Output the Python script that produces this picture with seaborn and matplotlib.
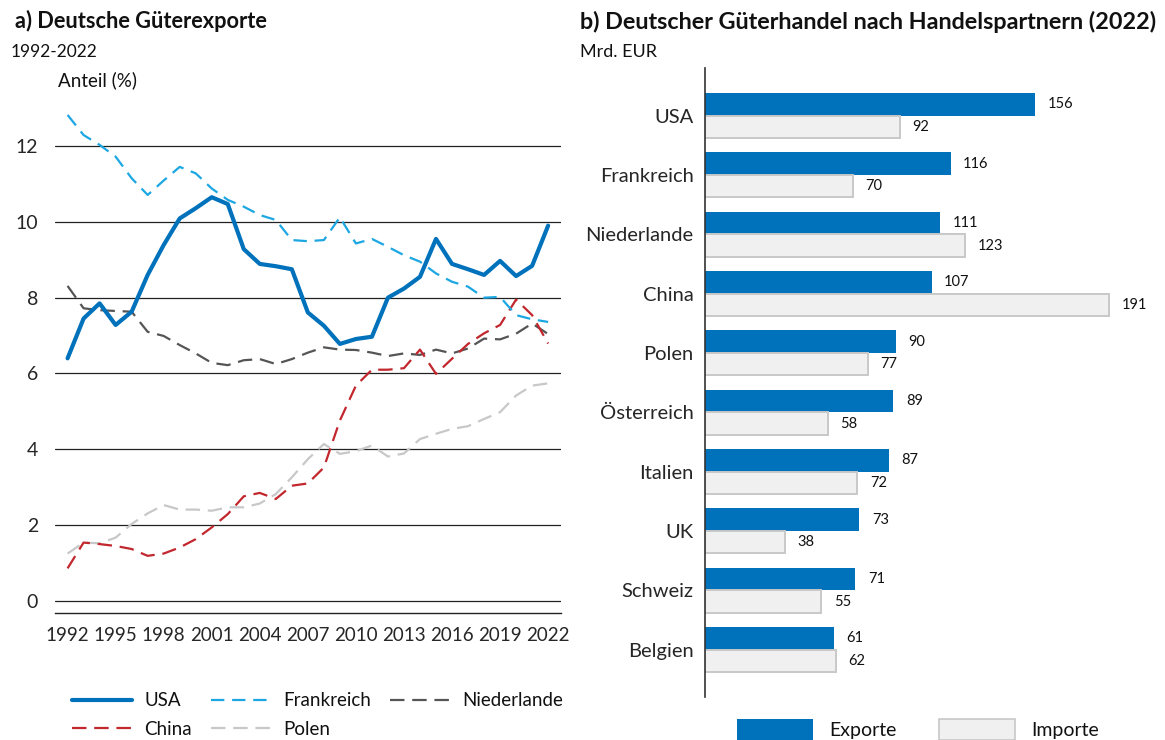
import numpy as np
import pandas as pd
import matplotlib
matplotlib.use("Agg")
import matplotlib.pyplot as plt
from matplotlib.patches import Patch
import seaborn as sns

# ------------------------------
# Daten
# ------------------------------
jahre = list(range(1992, 2023))

usa = [6.40, 7.45, 7.85, 7.28, 7.63, 8.60, 9.39, 10.09, 10.36, 10.65, 10.47, 9.28,
       8.89, 8.83, 8.75, 7.61, 7.26, 6.78, 6.91, 6.97, 8.00, 8.24, 8.55, 9.55,
       8.89, 8.75, 8.60, 8.97, 8.57, 8.84, 9.90]
frankreich = [12.82, 12.29, 12.03, 11.72, 11.15, 10.71, 11.09, 11.45, 11.28, 10.88, 10.58,
              10.40, 10.18, 10.05, 9.52, 9.49, 9.52, 10.12, 9.43, 9.55, 9.34, 9.12,
              8.95, 8.64, 8.42, 8.29, 8.00, 8.02, 7.54, 7.43, 7.36]
niederlande = [8.31, 7.72, 7.67, 7.65, 7.63, 7.10, 6.99, 6.75, 6.53, 6.28, 6.22, 6.35,
               6.38, 6.25, 6.38, 6.55, 6.69, 6.63, 6.62, 6.55, 6.46, 6.53, 6.49, 6.63,
               6.53, 6.66, 6.92, 6.90, 7.05, 7.32, 7.04]
china = [0.86, 1.54, 1.50, 1.45, 1.37, 1.19, 1.25, 1.41, 1.63, 1.94, 2.29, 2.76, 2.85,
         2.69, 3.04, 3.10, 3.52, 4.76, 5.68, 6.10, 6.10, 6.14, 6.63, 5.99, 6.39, 6.78,
         7.06, 7.28, 7.95, 7.54, 6.79]
polen = [1.25, 1.54, 1.52, 1.67, 2.03, 2.31, 2.53, 2.41, 2.41, 2.38, 2.47, 2.47, 2.57,
         2.82, 3.26, 3.74, 4.14, 3.88, 3.95, 4.10, 3.81, 3.89, 4.27, 4.41, 4.54, 4.61,
         4.80, 4.98, 5.42, 5.68, 5.74]

laender = ["USA", "Frankreich", "Niederlande", "China", "Polen",
           "Österreich", "Italien", "UK", "Schweiz", "Belgien"]
exporte = [156, 116, 111, 107, 90, 89, 87, 73, 71, 61]
importe = [92, 70, 123, 191, 77, 58, 72, 38, 55, 62]

x_ticks = list(range(1992, 2023, 3))
y_ticks = [0, 2, 4, 6, 8, 10, 12]

BLAU = "#0072bc"
HELLBLAU = "#1ca7e2"
DUNKELGRAU = "#555555"
ROT = "#c1272d"
HELLGRAU = "#c8c8c8"

sns.set_style("white")
plt.rcParams["font.family"] = ["Lato", "DejaVu Sans"]
plt.rcParams["text.color"] = "#111111"

fig = plt.figure(figsize=(11.65, 7.4), dpi=100)

# ==============================
# a) Linien
# ==============================
ax1 = fig.add_axes([0.047, 0.171, 0.4345, 0.688])

for y in y_ticks:
    ax1.axhline(y, color="#222222", lw=0.9, zorder=0)

serien = [
    ("Niederlande", niederlande, DUNKELGRAU, 1.6, (0, (6.5, 3.5))),
    ("Polen", polen, HELLGRAU, 1.6, (0, (6.5, 3.5))),
    ("China", china, ROT, 1.6, (0, (6.5, 3.5))),
    ("Frankreich", frankreich, HELLBLAU, 1.6, (0, (6, 3.5))),
    ("USA", usa, BLAU, 3.0, "-"),
]
for name, werte, farbe, lw, ls in serien:
    sns.lineplot(x=jahre, y=werte, ax=ax1, color=farbe, lw=lw, linestyle=ls, label=name)

ax1.set_xlim(1991.2, 2022.8)
ax1.set_ylim(-0.33, 13.1)
ax1.set_xticks(x_ticks)
ax1.set_yticks(y_ticks)
ax1.tick_params(axis="x", length=7, width=1, color="#222222", labelsize=13.5, pad=3)
ax1.tick_params(axis="y", length=0, labelsize=14, pad=12)
for s in ["top", "right", "left"]:
    ax1.spines[s].set_visible(False)
ax1.spines["bottom"].set_color("#222222")
ax1.spines["bottom"].set_linewidth(1)
ax1.set_xlabel("")
ax1.set_ylabel("")

h, l = ax1.get_legend_handles_labels()
ax1.get_legend().remove()
reihenfolge = ["USA", "China", "Frankreich", "Polen", "Niederlande"]
hh = [h[l.index(n)] for n in reihenfolge]
fig.legend(hh, reihenfolge, loc="upper left", bbox_to_anchor=(0.054, 0.077),
           ncol=3, frameon=False, fontsize=13.5, handlelength=3.2,
           handletextpad=0.65, columnspacing=1.0, labelspacing=0.6, borderpad=0)

fig.text(0.013, 0.972, "a) Deutsche Güterexporte", fontsize=15.7, fontweight="bold", va="center")
fig.text(0.009, 0.930, "1992-2022", fontsize=12.5, va="center")
fig.text(0.05, 0.892, "Anteil (%)", fontsize=13.5, va="center")

# ==============================
# b) Balken
# ==============================
df = pd.DataFrame({
    "Land": laender * 2,
    "Wert": exporte + importe,
    "Art": ["Exporte"] * len(laender) + ["Importe"] * len(laender),
})

ax2 = fig.add_axes([0.605, 0.058, 0.391, 0.85])
sns.barplot(data=df, y="Land", x="Wert", hue="Art", orient="h", ax=ax2,
            palette={"Exporte": BLAU, "Importe": "#f0f0f0"}, width=0.76,
            saturation=1, linewidth=0)

for bar in ax2.containers[1]:
    bar.set_edgecolor("#c8c8c8")
    bar.set_linewidth(1.4)

for cont in ax2.containers:
    ax2.bar_label(cont, padding=9, fontsize=10.5, color="#111111")

ax2.set_xlim(0, 215)
ax2.set_ylim(9.8, -0.8)
ax2.set_xticks([])
ax2.tick_params(axis="y", length=0, labelsize=14.5, pad=8)
for s in ["top", "right", "bottom"]:
    ax2.spines[s].set_visible(False)
ax2.spines["left"].set_color("#333333")
ax2.spines["left"].set_linewidth(1.2)
ax2.set_xlabel("")
ax2.set_ylabel("")

ax2.get_legend().remove()
h2 = [Patch(facecolor=BLAU, edgecolor="none"),
      Patch(facecolor="#f0f0f0", edgecolor="#c8c8c8", linewidth=1.2)]
fig.legend(h2, ["Exporte", "Importe"], loc="upper left", bbox_to_anchor=(0.624, 0.042),
           ncol=2, frameon=False, fontsize=14, handlelength=3.9, handleheight=1.3,
           handletextpad=0.85, columnspacing=2.2, borderpad=0)

fig.text(0.498, 0.970, "b) Deutscher Güterhandel nach Handelspartnern (2022)",
         fontsize=16.8, fontweight="bold", va="center")
fig.text(0.498, 0.930, "Mrd. EUR", fontsize=13, va="center")

fig.savefig("out.png", dpi=100)
plt.close()
